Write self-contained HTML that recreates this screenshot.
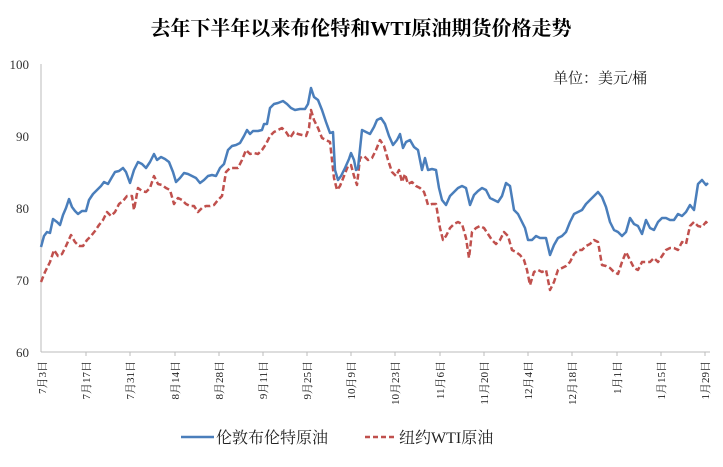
<!DOCTYPE html>
<html><head><meta charset="utf-8"><style>
html,body{margin:0;padding:0;background:#fff;}
svg{display:block;}
text{font-family:"Liberation Serif","Noto Serif CJK SC",serif;}
</style></head><body>
<svg width="723" height="467" viewBox="0 0 723 467" xmlns="http://www.w3.org/2000/svg">
<rect width="723" height="467" fill="#fff"/>
<text x="361" y="35" text-anchor="middle" font-size="20" font-weight="bold" fill="#000" style="font-family:'Liberation Serif','Noto Serif CJK SC',serif">去年下半年以来布伦特和WTI原油期货价格走势</text>
<text x="553" y="83" font-size="15" fill="#222" style="font-family:'Liberation Serif','Noto Serif CJK SC',serif">单位：美元/桶</text>
<g font-size="13" fill="#333" text-anchor="end">
<text x="29" y="69">100</text><text x="29" y="141">90</text><text x="29" y="213">80</text><text x="29" y="285">70</text><text x="29" y="357">60</text>
</g>
<line x1="41" y1="64" x2="41" y2="352" stroke="#bbb" stroke-width="1"/>
<line x1="41" y1="352" x2="710" y2="352" stroke="#bbb" stroke-width="1"/>
<g stroke="#bbb">
<line x1="86" y1="352" x2="86" y2="356"/><line x1="130" y1="352" x2="130" y2="356"/><line x1="175" y1="352" x2="175" y2="356"/><line x1="219" y1="352" x2="219" y2="356"/><line x1="263" y1="352" x2="263" y2="356"/><line x1="307" y1="352" x2="307" y2="356"/><line x1="351" y1="352" x2="351" y2="356"/><line x1="395" y1="352" x2="395" y2="356"/><line x1="440" y1="352" x2="440" y2="356"/><line x1="484" y1="352" x2="484" y2="356"/><line x1="528" y1="352" x2="528" y2="356"/><line x1="572" y1="352" x2="572" y2="356"/><line x1="617" y1="352" x2="617" y2="356"/><line x1="661" y1="352" x2="661" y2="356"/><line x1="705" y1="352" x2="705" y2="356"/>
</g>
<g font-size="11" fill="#222" text-anchor="end">
<text transform="translate(46,361) rotate(-90)">7月3日</text>
<text transform="translate(90,361) rotate(-90)">7月17日</text>
<text transform="translate(134,361) rotate(-90)">7月31日</text>
<text transform="translate(179,361) rotate(-90)">8月14日</text>
<text transform="translate(223,361) rotate(-90)">8月28日</text>
<text transform="translate(267,361) rotate(-90)">9月11日</text>
<text transform="translate(311,361) rotate(-90)">9月25日</text>
<text transform="translate(355,361) rotate(-90)">10月9日</text>
<text transform="translate(399,361) rotate(-90)">10月23日</text>
<text transform="translate(444,361) rotate(-90)">11月6日</text>
<text transform="translate(488,361) rotate(-90)">11月20日</text>
<text transform="translate(532,361) rotate(-90)">12月4日</text>
<text transform="translate(576,361) rotate(-90)">12月18日</text>
<text transform="translate(621,361) rotate(-90)">1月1日</text>
<text transform="translate(665,361) rotate(-90)">1月15日</text>
<text transform="translate(709,361) rotate(-90)">1月29日</text>
</g>
<polyline fill="none" stroke="#c0504d" stroke-width="2.5" stroke-dasharray="6,3" stroke-linejoin="round" points="41,282 45,272 50,262 54,250 58,256 62,254 66,246 71,235 75,242 79,246 83,246 87,240 91,236 95,231 99,225 103,220 107,212 111,216 115,212 119,204 123,201 127,196 132,196 134,210 138,188 142,191 146,192 150,188 154,176 158,184 162,185 166,188 170,190 174,204 178,198 182,200 186,204 190,206 194,206 198,212 202,208 206,206 210,206 214,205 218,200 222,196 226,172 230,168 234,168 238,168 242,160 246,150 250,154 254,153 258,154 262,150 266,144 270,136 274,132 278,130 282,128 286,132 290,138 294,132 298,134 302,135 306,136 309,128 311,110 314,120 318,128 322,138 326,140 330,142 334,178 337,190 340,186 344,176 348,166 351,165 354,176 357,185 360,158 364,156 368,160 372,158 376,150 380,140 384,146 388,160 392,172 396,176 399,170 402,182 405,174 408,184 412,182 416,186 420,188 424,192 426,198 428,205 432,204 436,204 440,228 443,240 446,236 450,228 454,224 458,222 462,224 466,238 469,258 472,232 476,228 480,226 484,228 488,234 492,240 496,244 500,240 504,232 508,236 512,250 516,252 520,255 524,260 527,270 530,285 534,272 538,270 542,272 546,270 550,290 554,282 558,270 562,268 566,266 570,262 574,254 578,250 582,250 586,246 590,244 594,240 598,242 602,265 606,266 610,268 614,272 618,274 622,262 626,252 630,260 634,268 638,270 642,262 646,262 650,262 654,258 658,262 662,256 666,250 670,248 674,248 678,250 682,242 686,244 690,226 694,222 698,226 702,227 706,222 708,224"/>
<polyline fill="none" stroke="#4a7ebb" stroke-width="2.5" stroke-linejoin="round" points="41,247 44,236 47,232 50,233 53,219 57,222 60,225 63,215 66,208 69,199 72,207 75,211 78,214 82,211 86,211 89,200 93,194 97,190 101,186 104,182 108,184 112,177 115,172 119,171 123,168 126,172 130,183 134,170 138,162 142,164 146,168 150,162 154,154 157,160 161,157 165,159 169,162 173,172 176,182 180,178 184,173 188,174 192,176 196,178 200,183 204,180 208,176 212,175 216,176 220,168 224,164 228,150 232,146 236,145 240,143 244,136 247,130 250,134 253,131 258,131 262,130 264,124 267,124 270,108 274,104 278,103 283,101 287,104 291,108 295,110 300,109 305,109 308,104 311,88 314,97 318,100 322,110 326,122 330,133 333,132 335,170 338,180 341,176 345,168 349,159 351,153 354,160 356,170 358,168 362,130 366,132 370,134 374,127 377,120 381,118 385,124 389,136 393,145 397,140 400,134 403,148 406,142 410,140 414,147 418,150 422,170 425,158 428,170 432,169 436,170 439,188 442,200 446,205 450,196 454,192 458,188 462,186 466,188 470,205 474,195 478,191 482,188 486,190 490,198 494,200 498,202 502,196 506,183 510,186 514,210 518,214 521,220 525,228 528,240 532,240 536,236 540,238 546,238 550,255 554,245 558,238 562,236 566,232 570,222 574,214 578,212 582,210 586,204 590,200 594,196 598,192 602,197 606,207 610,222 614,230 618,232 622,236 626,232 630,218 634,224 638,226 642,234 646,220 650,228 654,230 658,222 662,218 666,218 670,220 674,220 678,214 682,216 686,212 690,205 694,210 698,184 702,180 706,185 708,183"/>
<line x1="181" y1="437" x2="214" y2="437" stroke="#4a7ebb" stroke-width="2.5"/>
<text x="216" y="443" font-size="16" fill="#222" style="font-family:'Liberation Serif','Noto Serif CJK SC',serif">伦敦布伦特原油</text>
<line x1="365" y1="437" x2="397" y2="437" stroke="#c0504d" stroke-width="2.5" stroke-dasharray="5,3"/>
<text x="399" y="443" font-size="16" fill="#222" style="font-family:'Liberation Serif','Noto Serif CJK SC',serif">纽约WTI原油</text>
</svg>
</body></html>
